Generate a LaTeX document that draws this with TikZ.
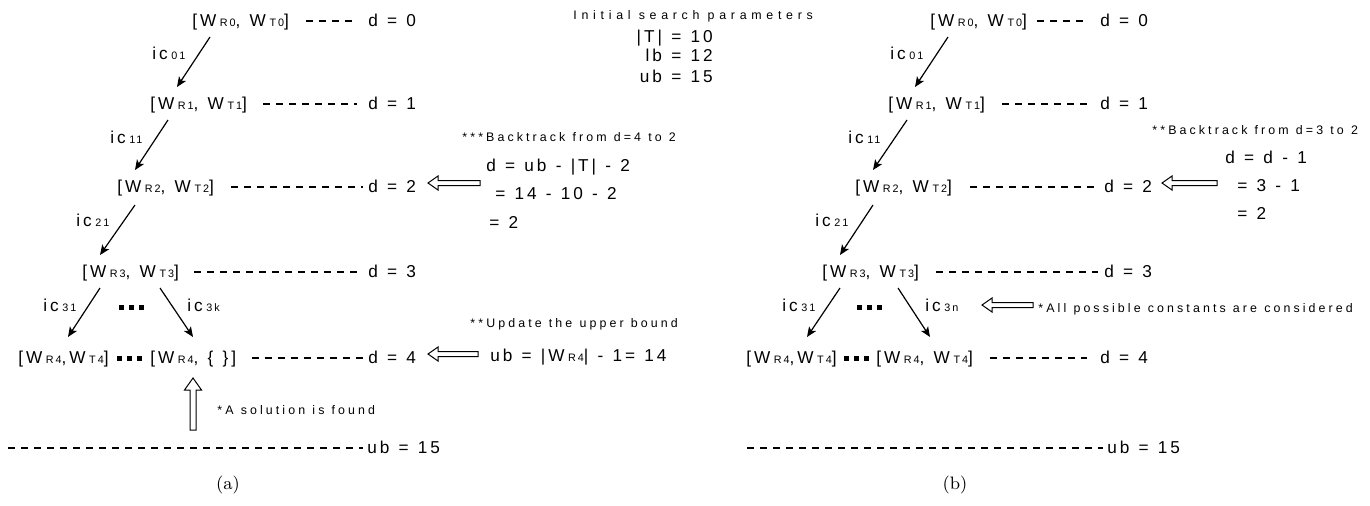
\documentclass[tikz,border=0pt]{standalone}
\usepackage{fontspec}
\usetikzlibrary{arrows.meta,calc}
\newfontfamily\afm[LetterSpace=17,WordSpace=1.2]{Liberation Sans}
\newfontfamily\afs[LetterSpace=25,WordSpace=1.1]{Liberation Sans}
\newfontfamily\afw[LetterSpace=38]{Liberation Sans}
\newfontfamily\afx[LetterSpace=18]{Liberation Sans}
\newcommand\mtxt{\afm\fontsize{8.6}{10}\selectfont}
\newcommand\stxt{\afs\fontsize{6.2}{7.5}\selectfont}
\newcommand\wtxt{\afw\fontsize{6.2}{7.5}\selectfont}
\newcommand\lsub[1]{\hspace{1.8pt}{\afx\fontsize{5.4}{6}\selectfont #1}}
\tikzset{
  lbl/.style={inner sep=0pt, anchor=west, text height=6.2pt, text depth=0pt, font=\mtxt},
  note/.style={inner sep=0pt, anchor=west, text height=4.5pt, text depth=0pt, font=\stxt},
  conn/.style={line width=0.6pt, -{Stealth[length=5pt,width=4.2pt,inset=1.2pt]}},
  lead/.style={line width=0.6pt, dash pattern=on 3.5pt off 3pt},
  hollow/.style={line width=0.5pt, fill=white},
  captxt/.style={inner sep=0pt, font=\fontsize{9}{11}\selectfont},
  harrowL/.pic={code={\draw[hollow] (0,0) -- (10,-7) -- (10,-2.5) -- (#1,-2.5) -- (#1,2.5) -- (10,2.5) -- (10,7) -- cycle;}},
  harrowU/.pic={code={\draw[hollow] (0,0) -- (-8.5,12) -- (-3,12) -- (-3,#1) -- (3,#1) -- (3,12) -- (8.5,12) -- cycle;}},
  threedots/.pic={code={\fill (0,0) rectangle (5,5); \fill (10,0) rectangle (15,5); \fill (20,0) rectangle (25,5);}}
}
\begin{document}
\begin{tikzpicture}[x=0.5pt,y=-0.5pt]
\useasboundingbox (0,0) rectangle (1370,505);

% ---------------- left panel (a) ----------------
\node[lbl] (n0) at (192,20) {[W\lsub{R0}, W\lsub{T0}]};
\node[lbl] (d0) at (368,20) {d = 0};
\node[lbl] (ic0) at (152,53) {ic\lsub{01}};
\node[lbl] (n1) at (150,103) {[W\lsub{R1}, W\lsub{T1}]};
\node[lbl] (d1) at (368,103) {d = 1};
\node[lbl] (ic1) at (110,137) {ic\lsub{11}};
\node[lbl] (n2) at (117,186) {[W\lsub{R2}, W\lsub{T2}]};
\node[lbl] (d2) at (368,186) {d = 2};
\node[lbl] (ic2) at (76,220) {ic\lsub{21}};
\node[lbl] (n3) at (82,271) {[W\lsub{R3}, W\lsub{T3}]};
\node[lbl] (d3) at (368,271) {d = 3};
\node[lbl] (ic3) at (43,305) {ic\lsub{31}};
\node[lbl] (ic3k) at (187,305) {ic\lsub{3k}};
\node[lbl] (n4a) at (18,357) {[W\lsub{R4},W\lsub{T4}]};
\node[lbl] (n4b) at (150,357) {[W\lsub{R4}, \{ \}]};
\node[lbl] (d4) at (368,357) {d = 4};
\node[note] (sol) at (217,410) {*A solution is found};
\node[lbl] (ubl) at (367,447) {ub = 15};
\node[captxt] (capa) at (228,485) {(a)};

\pic at (119,305) {threedots};
\pic at (117,356) {threedots};

\draw[conn] ($(n0.west)+(18,17)$) -- ($(n1.west)+(27,-16)$);
\draw[conn] ($(n1.west)+(18,17)$) -- ($(n2.west)+(18,-16)$);
\draw[conn] ($(n2.west)+(18,19)$) -- ($(n3.west)+(18,-16)$);
\draw[conn] ($(n3.west)+(18,17)$) -- ($(n4a.west)+(50,-20)$);
\draw[conn] ($(n3.west)+(78,17)$) -- ($(n4b.west)+(43,-20)$);

\draw[lead] ($(n0.east)+(17,1)$) -- ($(d0.west)+(-11,1)$);
\draw[lead] ($(n1.east)+(16,1)$) -- ($(d1.west)+(-11,1)$);
\draw[lead] ($(n2.east)+(17,1)$) -- ($(d2.west)+(-5,1)$);
\draw[lead] ($(n3.east)+(15,1)$) -- ($(d3.west)+(-8,1)$);
\draw[lead] ($(n4b.east)+(15,1)$) -- ($(d4.west)+(-5,1)$);
\coordinate (ubsa) at (8,448);
\draw[lead] (ubsa) -- ($(ubl.west)+(-4,1)$);

\pic at (428,183) {harrowL=52};
\pic at (428,354) {harrowL=50};
\pic at (193,378) {harrowU=52};

\node[inner sep=0pt, anchor=west, text height=4.5pt, text depth=0pt, font=\wtxt] (isp) at (573,15) {Initial search parameters};
\node[lbl, anchor=east] (pT) at (713,36) {|T| = 10};
\node[lbl, anchor=east] (plb) at (713,55) {lb = 12};
\node[lbl, anchor=east] (pub) at (713,76) {ub = 15};

\node[note] (bt) at (462,137) {***Backtrack from d=4 to 2};
\node[lbl] (e1) at (486,165) {d = ub - |T| - 2};
\node[lbl] (e2) at (495,193) {= 14 - 10 - 2};
\node[lbl] (e3) at (489,222) {= 2};
\node[note] (upd) at (470,323) {**Update the upper bound};
\node[lbl] (e4) at (490,355) {ub = |W\lsub{R4}| - 1= 14};

% ---------------- right panel (b) ----------------
\node[lbl] (m0) at (930,20) {[W\lsub{R0}, W\lsub{T0}]};
\node[lbl] (dm0) at (1100,20) {d = 0};
\node[lbl] (icr0) at (890,53) {ic\lsub{01}};
\node[lbl] (m1) at (888,103) {[W\lsub{R1}, W\lsub{T1}]};
\node[lbl] (dm1) at (1100,103) {d = 1};
\node[lbl] (icr1) at (848,137) {ic\lsub{11}};
\node[lbl] (m2) at (855,186) {[W\lsub{R2}, W\lsub{T2}]};
\node[lbl] (dm2) at (1104,186) {d = 2};
\node[lbl] (icr2) at (815,220) {ic\lsub{21}};
\node[lbl] (m3) at (822,271) {[W\lsub{R3}, W\lsub{T3}]};
\node[lbl] (dm3) at (1104,271) {d = 3};
\node[lbl] (icr3) at (782,305) {ic\lsub{31}};
\node[lbl] (icr3n) at (925,305) {ic\lsub{3n}};
\node[lbl] (m4a) at (746,357) {[W\lsub{R4},W\lsub{T4}]};
\node[lbl] (m4b) at (876,357) {[W\lsub{R4}, W\lsub{T4}]};
\node[lbl] (dm4) at (1100,357) {d = 4};
\node[lbl] (ubr) at (1107,447) {ub = 15};
\node[captxt] (capb) at (955,485) {(b)};

\pic at (857,305) {threedots};
\pic at (844,356) {threedots};

\draw[conn] ($(m0.west)+(18,17)$) -- ($(m1.west)+(27,-16)$);
\draw[conn] ($(m1.west)+(19,17)$) -- ($(m2.west)+(18,-16)$);
\draw[conn] ($(m2.west)+(18,19)$) -- ($(m3.west)+(18,-16)$);
\draw[conn] ($(m3.west)+(18,17)$) -- ($(m4a.west)+(61,-20)$);
\draw[conn] ($(m3.west)+(76,17)$) -- ($(m4b.west)+(54,-20)$);

\draw[lead] ($(m0.east)+(10,1)$) -- ($(dm0.west)+(-13,1)$);
\draw[lead] ($(m1.east)+(17,1)$) -- ($(dm1.west)+(-13,1)$);
\draw[lead] ($(m2.east)+(18,1)$) -- ($(dm2.west)+(-4,1)$);
\draw[lead] ($(m3.east)+(17,1)$) -- ($(dm3.west)+(-6,1)$);
\draw[lead] ($(m4b.east)+(17,1)$) -- ($(dm4.west)+(-13,1)$);
\coordinate (ubsb) at (747,448);
\draw[lead] (ubsb) -- ($(ubr.west)+(-4,1)$);

\pic at (1162,183) {harrowL=55};
\pic at (982,305) {harrowL=51};

\node[note] (btr) at (1152,130) {**Backtrack from d=3 to 2};
\node[lbl] (f1) at (1225,157) {d = d - 1};
\node[lbl] (f2) at (1237,185) {= 3 - 1};
\node[lbl] (f3) at (1237,213) {= 2};
\node[note] (allc) at (1038,308) {*All possible constants are considered};
\end{tikzpicture}
\end{document}
